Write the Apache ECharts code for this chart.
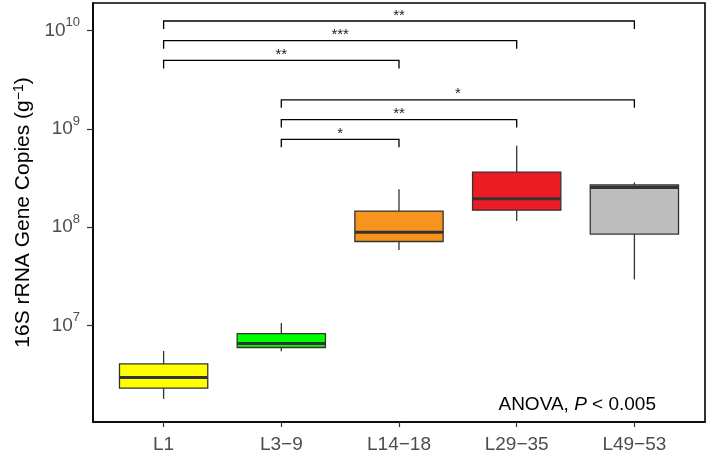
<!DOCTYPE html>
<html><head><meta charset="utf-8">
<script src="https://cdn.jsdelivr.net/npm/echarts@6/dist/echarts.min.js"></script>
<style>html,body{margin:0;padding:0;background:#fff}#c{width:709px;height:457px}</style>
</head><body><div id="c"></div>
<script>
const categories = ['L1', 'L3\u22129', 'L14\u221218', 'L29\u221235', 'L49\u221253'];
const whiskerLow  = [1.79e6, 5.47e6, 5.85e7, 1.16e8, 2.94e7];
const q1Vals      = [2.30e6, 5.97e6, 7.16e7, 1.49e8, 8.51e7];
const medianVals  = [2.95e6, 6.56e6, 8.91e7, 1.95e8, 2.54e8];
const q3Vals      = [4.06e6, 8.28e6, 1.46e8, 3.64e8, 2.69e8];
const whiskerHigh = [5.51e6, 1.063e7, 2.43e8, 6.75e8, 2.86e8];
const boxColors = ['#FFFF00', '#00FF00', '#F7941D', '#ED1C24', '#BEBEBE'];
const yTicks = [1e7, 1e8, 1e9, 1e10];
const yMin = 1.042e6, yMax = 1.914e10;
const bracketFrom  = [0, 0, 0, 1, 1, 1];
const bracketTo    = [4, 3, 2, 4, 3, 2];
const bracketLevel = [1.256e10, 7.91e9, 4.98e9, 1.98e9, 1.246e9, 7.85e8];
const bracketLabel = ['**', '***', '**', '*', '**', '*'];

const FONT = 'Liberation Sans, Arial, sans-serif';
const boxData = categories.map((c, i) => [i + 1, whiskerLow[i], q1Vals[i], medianVals[i], q3Vals[i], whiskerHigh[i]]);
const bracketData = bracketFrom.map((f, i) => [f + 1, bracketTo[i] + 1, bracketLevel[i]]);
const xPos = categories.map((c, i) => i + 1);

const chart = echarts.init(document.getElementById('c'), null, {renderer: 'canvas'});
chart.setOption({
  animation: false,
  textStyle: {fontFamily: FONT},
  grid: {left: 93, right: 4, top: 3, bottom: 35, show: true, borderColor: '#000', borderWidth: 1.6, backgroundColor: 'transparent'},
  title: {
    text: '{n|ANOVA, }{i|P}{n| < 0.005}',
    right: 53, top: 395, padding: 0,
    textStyle: {fontWeight: 'normal', rich: {
      n: {fontSize: 19, color: '#000', fontFamily: FONT, fontWeight: 'normal'},
      i: {fontSize: 19, color: '#000', fontFamily: FONT, fontStyle: 'italic', fontWeight: 'normal'}
    }}
  },
  xAxis: {
    type: 'value', min: 0.4, max: 5.6,
    axisLine: {show: true, lineStyle: {color: '#000', width: 1.6}},
    axisTick: {show: true, customValues: xPos, length: 5, lineStyle: {color: '#333', width: 1.2}},
    axisLabel: {customValues: xPos, formatter: v => categories[Math.round(v) - 1], fontSize: 19, color: '#4D4D4D', margin: 13, fontFamily: FONT},
    splitLine: {show: false}
  },
  yAxis: {
    type: 'log', logBase: 10, min: yMin, max: yMax,
    name: '16S rRNA Gene Copies (g{s|\u22121})',
    nameLocation: 'middle', nameRotate: 90, nameGap: 59,
    nameTextStyle: {fontSize: 21, color: '#000', fontFamily: FONT, rich: {
      s: {fontSize: 14, color: '#000', fontFamily: FONT, verticalAlign: 'top', lineHeight: 14}
    }},
    axisLine: {show: true, lineStyle: {color: '#000', width: 1.6}},
    axisTick: {show: true, customValues: yTicks, length: 6, lineStyle: {color: '#333', width: 1.2}},
    axisLabel: {
      customValues: yTicks, margin: 13,
      formatter: v => '{b|10}{s|' + Math.round(Math.log10(v)) + '}',
      rich: {
        b: {fontSize: 19, color: '#4D4D4D', fontFamily: FONT, lineHeight: 29},
        s: {fontSize: 13, color: '#4D4D4D', fontFamily: FONT, verticalAlign: 'top', lineHeight: 13}
      }
    },
    splitLine: {show: false}
  },
  series: [
    {
      type: 'custom', data: boxData, encode: {x: 0, y: [1, 2, 3, 4, 5]},
      renderItem(params, api) {
        const i = params.dataIndex;
        const x = api.value(0);
        const pL = api.coord([x - 0.375, api.value(3)]);
        const pR = api.coord([x + 0.375, api.value(3)]);
        const lo = api.coord([x, api.value(1)]);
        const q1 = api.coord([x, api.value(2)]);
        const q3 = api.coord([x, api.value(4)]);
        const hi = api.coord([x, api.value(5)]);
        const cx = lo[0];
        const ln = {stroke: '#333', lineWidth: 1.3};
        return {type: 'group', children: [
          {type: 'line', shape: {x1: cx, y1: hi[1], x2: cx, y2: q3[1]}, style: ln},
          {type: 'line', shape: {x1: cx, y1: q1[1], x2: cx, y2: lo[1]}, style: ln},
          {type: 'rect', shape: {x: pL[0], y: q3[1], width: pR[0] - pL[0], height: q1[1] - q3[1]},
            style: {fill: boxColors[i], stroke: '#333', lineWidth: 1.3}},
          {type: 'line', shape: {x1: pL[0], y1: pL[1], x2: pR[0], y2: pR[1]}, style: {stroke: '#333', lineWidth: 3}}
        ]};
      }
    },
    {
      type: 'custom', data: bracketData, encode: {x: [0, 1], y: 2},
      renderItem(params, api) {
        const a = api.coord([api.value(0), api.value(2)]);
        const b = api.coord([api.value(1), api.value(2)]);
        return {type: 'group', children: [
          {type: 'polyline', shape: {points: [[a[0], a[1] + 8], [a[0], a[1]], [b[0], b[1]], [b[0], b[1] + 8]]},
            style: {stroke: '#000', lineWidth: 1.3, fill: null}},
          {type: 'text', x: (a[0] + b[0]) / 2, y: a[1] + 2,
            style: {text: bracketLabel[params.dataIndex], align: 'center', verticalAlign: 'bottom', fontSize: 15, fill: '#222', fontFamily: FONT}}
        ]};
      }
    }
  ]
});
</script>
</body></html>
